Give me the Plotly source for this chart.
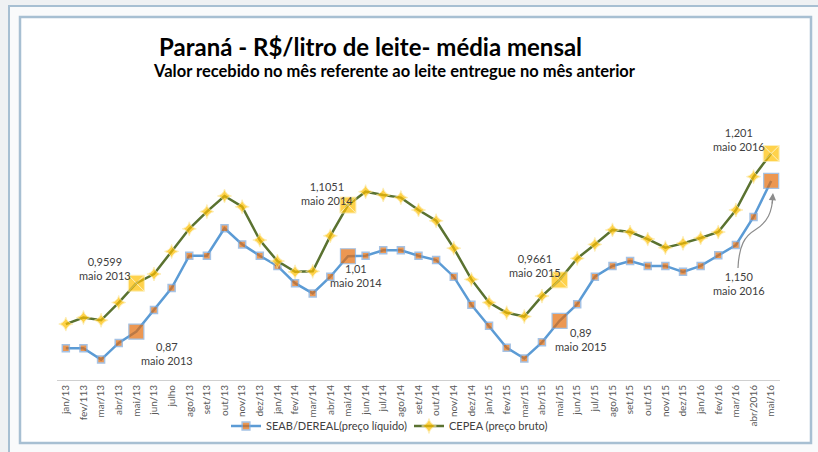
import plotly.graph_objects as go

categories = ["jan/13", "fev/113", "mar/13", "abr/13", "mai/13", "jun/13", "julho", "ago/13",
              "set/13", "out/13", "nov/13", "dez/13", "jan/14", "fev/14", "mar/14", "abr/14",
              "mai/14", "jun/14", "jul/14", "ago/14", "set/14", "out/14", "nov/14", "dez/14",
              "jan/15", "fev/15", "mar/15", "abr/15", "mai/15", "jun/15", "jul/15", "ago/15",
              "set/15", "out/15", "nov/15", "dez/15", "jan/16", "fev/16", "mar/16", "abr/2016",
              "mai/16"]

seab = [0.839, 0.839, 0.818, 0.849, 0.87, 0.910, 0.951, 1.011, 1.011, 1.062, 1.032, 1.011,
        0.992, 0.960, 0.941, 0.972, 1.01, 1.011, 1.021, 1.021, 1.011, 1.003, 0.972, 0.920,
        0.881, 0.840, 0.820, 0.850, 0.89, 0.921, 0.972, 0.992, 1.001, 0.992, 0.992, 0.981,
        0.992, 1.012, 1.031, 1.083, 1.150]

cepea = [0.884, 0.896, 0.891, 0.924, 0.9599, 0.977, 1.019, 1.061, 1.093, 1.122, 1.102, 1.040,
         1.001, 0.981, 0.982, 1.048, 1.1051, 1.130, 1.124, 1.119, 1.096, 1.076, 1.025, 0.967,
         0.924, 0.905, 0.898, 0.936, 0.9661, 1.006, 1.032, 1.059, 1.055, 1.042, 1.026, 1.034,
         1.044, 1.055, 1.096, 1.158, 1.201]

highlight_idx = [4, 16, 28, 40]
seab_labels = ["0,87<br>maio 2013", "1,01<br>maio 2014", "0,89<br>maio 2015", "1,150<br>maio 2016"]
cepea_labels = ["0,9599<br>maio 2013", "1,1051<br>maio 2014", "0,9661<br>maio 2015", "1,201<br>maio 2016"]

title = "Paraná - R$/litro de leite- média mensal"
subtitle = "Valor recebido no mês referente ao leite entregue no mês anterior"

FONT = "Lato, 'Open Sans', sans-serif"
W, H = 818, 452
ML, MR, MT, MB = 57, 38, 100, 72
PW, PH = W - ML - MR, H - MT - MB
Y0 = 0.78
YPX = 538.0  # px per unit
YRANGE = [Y0, Y0 + PH / YPX]


def px2paper(px, py):
    return (px - ML) / PW, (H - MB - py) / PH


n = len(categories)
seab_sizes = [15 if i in highlight_idx else 7 for i in range(n)]
seab_lw = [1.2 if i in highlight_idx else 1.5 for i in range(n)]
cepea_sizes = [16 if i in highlight_idx else 10 for i in range(n)]
cepea_sym = ["square-x" if i in highlight_idx else "star-diamond" for i in range(n)]

fig = go.Figure()
fig.add_trace(go.Scatter(
    x=categories, y=seab, mode="lines+markers", name="SEAB/DEREAL(preço líquido)",
    line=dict(color="#5b9bd5", width=2.5),
    marker=dict(symbol="square", size=seab_sizes, color="#e46c0a",
                line=dict(color="#7fa9da", width=seab_lw)),
))
fig.add_trace(go.Scatter(
    x=categories, y=cepea, mode="lines+markers", name="CEPEA (preço bruto)",
    line=dict(color="#5a7230", width=2.5),
    marker=dict(symbol=cepea_sym, size=cepea_sizes, color="#ffc000",
                line=dict(color="#fde9a0", width=1)),
))

annotations = []
seab_shift = [(31, -22), (8, -19), (21, -19), (-32, -103)]
cepea_shift = [(-31, 15), (-21, 12), (-25, 14), (-32, 14)]
for k, i in enumerate(highlight_idx):
    annotations.append(dict(x=categories[i], y=seab[i], text=seab_labels[k], showarrow=False,
                            xshift=seab_shift[k][0], yshift=seab_shift[k][1],
                            xanchor="center", yanchor="middle",
                            font=dict(family=FONT, size=11, color="#404040")))
    annotations.append(dict(x=categories[i], y=cepea[i], text=cepea_labels[k], showarrow=False,
                            xshift=cepea_shift[k][0], yshift=cepea_shift[k][1],
                            xanchor="center", yanchor="middle",
                            font=dict(family=FONT, size=11, color="#404040")))

tx, ty = px2paper(370, 46)
annotations.append(dict(xref="paper", yref="paper", x=tx, y=ty, text="<b>" + title + "</b>",
                        showarrow=False, xanchor="center", yanchor="middle",
                        font=dict(family=FONT, size=24, color="#000000")))
sx, sy = px2paper(394, 71)
annotations.append(dict(xref="paper", yref="paper", x=sx, y=sy, text="<b>" + subtitle + "</b>",
                        showarrow=False, xanchor="center", yanchor="middle",
                        font=dict(family=FONT, size=16.5, color="#000000")))

# arrowhead of curved pointer
hx, hy = px2paper(773, 193)
annotations.append(dict(xref="paper", yref="paper", x=hx, y=hy, text="", showarrow=True,
                        ax=-1, ay=12, arrowhead=2, arrowsize=1.2, arrowwidth=1.2,
                        arrowcolor="#8c8c8c"))

# curved pointer path
pts = [(738, 268), (739, 245), (745, 236), (755, 230), (768, 222), (772, 212), (773, 196)]
pp = [px2paper(a, b) for a, b in pts]
path = "M {0},{1} C {2},{3} {4},{5} {6},{7} C {8},{9} {10},{11} {12},{13}".format(
    pp[0][0], pp[0][1], pp[1][0], pp[1][1], pp[2][0], pp[2][1], pp[3][0], pp[3][1],
    pp[4][0], pp[4][1], pp[5][0], pp[5][1], pp[6][0], pp[6][1])

ox0, oy0 = px2paper(9, 6)
ox1, oy1 = px2paper(840, 470)
ix0, iy0 = px2paper(20, 17)
ix1, iy1 = px2paper(811, 443)
shapes = [
    dict(type="rect", xref="paper", yref="paper", x0=ox0, y0=oy1, x1=ox1, y1=oy0,
         fillcolor="#f9fafb", line=dict(color="#a7bfd2", width=2), layer="below"),
    dict(type="rect", xref="paper", yref="paper", x0=ix0, y0=iy1, x1=ix1, y1=iy0,
         fillcolor="#ffffff", line=dict(color="#a7bfd2", width=2.5), layer="below"),
    dict(type="path", xref="paper", yref="paper", path=path,
         line=dict(color="#8c8c8c", width=1.2)),
]

lx, ly = px2paper(226, 426)
fig.update_layout(
    width=W, height=H,
    margin=dict(l=ML, r=MR, t=MT, b=MB, autoexpand=False),
    paper_bgcolor="#eff1f3",
    plot_bgcolor="rgba(0,0,0,0)",
    font=dict(family=FONT, color="#595959"),
    showlegend=True,
    legend=dict(orientation="h", x=lx, y=ly, xanchor="left", yanchor="middle",
                font=dict(family=FONT, size=11, color="#404040"),
                bgcolor="rgba(0,0,0,0)", entrywidth=138, entrywidthmode="pixels",
                itemsizing="trace"),
    xaxis=dict(type="category", range=[-0.5, n - 0.5], showline=True, linecolor="#d0d0d0",
               linewidth=1, showgrid=False, zeroline=False, ticks="", tickangle=-90,
               automargin=False,
               tickfont=dict(family=FONT, size=10, color="#595959")),
    yaxis=dict(range=YRANGE, visible=False, showgrid=False, zeroline=False),
    annotations=annotations,
    shapes=shapes,
)

fig.write_html(
    "out.html",
    config={"displayModeBar": False},
    post_script="document.body.style.margin='0';document.body.style.background='#eff1f3';"
                "document.body.style.overflow='hidden';",
)
